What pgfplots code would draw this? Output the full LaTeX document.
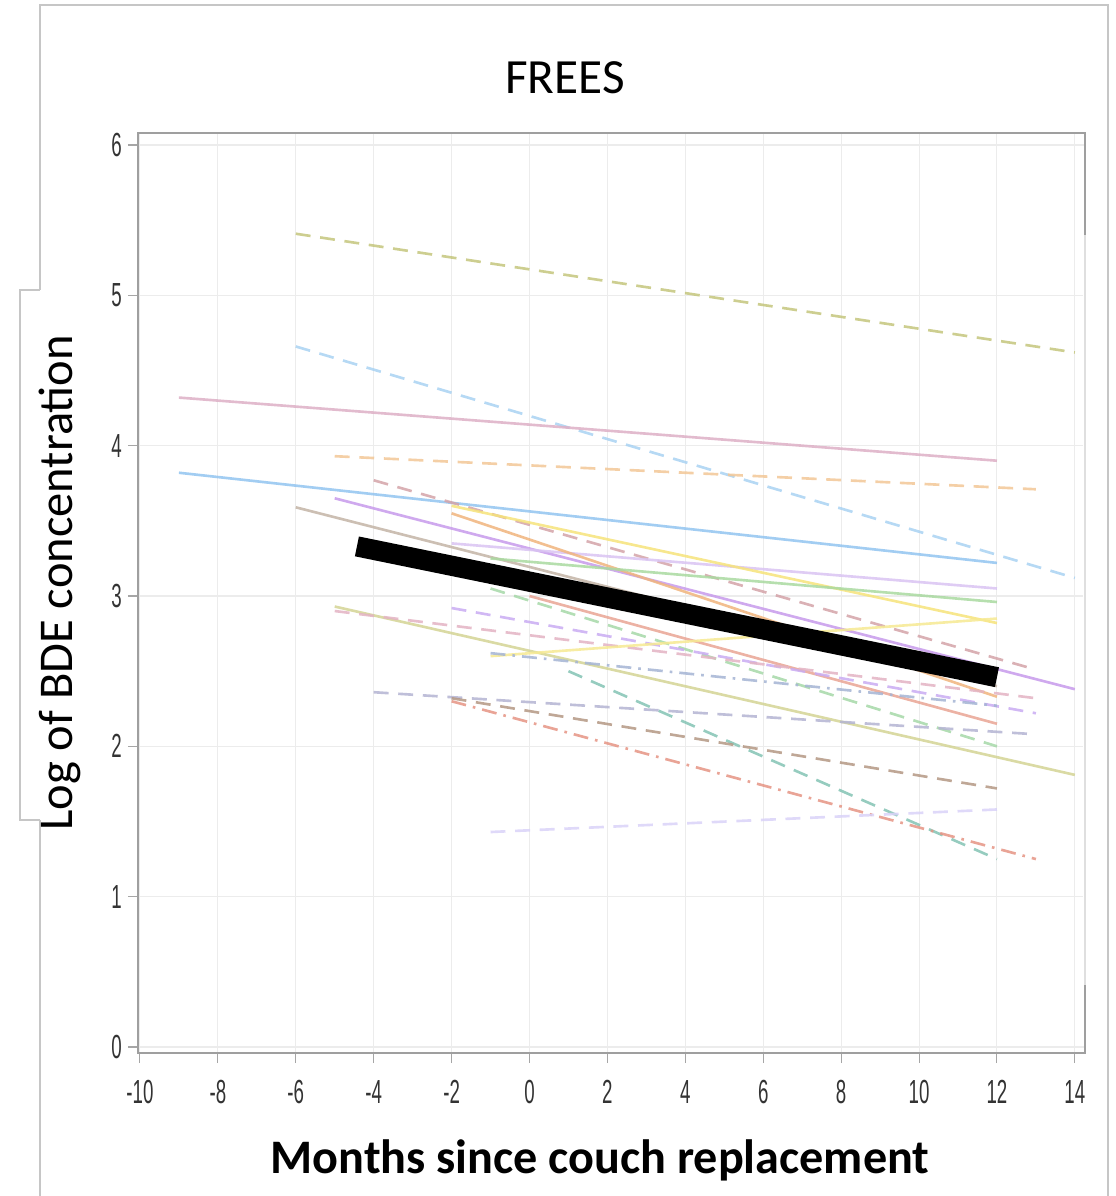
\documentclass[border=0pt]{standalone}
\usepackage{pgfplots}
\pgfplotsset{compat=1.18}
\usepackage{fontspec}
\setmainfont{Carlito}
\newfontfamily\tickfont{Liberation Sans}

% pastel SAS-like colours
\definecolor{olive1}{HTML}{C4C67C}
\definecolor{ltblue}{HTML}{A9D2F2}
\definecolor{pink1}{HTML}{DDAFC6}
\definecolor{orange1}{HTML}{F2C796}
\definecolor{blue1}{HTML}{92C4F0}
\definecolor{mauve1}{HTML}{D4A3A8}
\definecolor{violet1}{HTML}{C79AEB}
\definecolor{tan1}{HTML}{C3B4A6}
\definecolor{yellow1}{HTML}{F6E37A}
\definecolor{orange2}{HTML}{F0B47C}
\definecolor{green1}{HTML}{A9D9A0}
\definecolor{lav1}{HTML}{D9C3F2}
\definecolor{salmon1}{HTML}{E9A494}
\definecolor{green2}{HTML}{A6D8A8}
\definecolor{purple2}{HTML}{C9ABF2}
\definecolor{khaki1}{HTML}{D3D494}
\definecolor{pink2}{HTML}{E3B3C3}
\definecolor{dashblue}{HTML}{A4B4D4}
\definecolor{teal1}{HTML}{84C3B4}
\definecolor{greyp}{HTML}{B4B4D2}
\definecolor{brown1}{HTML}{B49884}
\definecolor{red1}{HTML}{E59484}
\definecolor{lav2}{HTML}{D9D2F8}
\definecolor{yellow2}{HTML}{F6E992}

\tikzset{
  dsh/.style={dash pattern=on 8.5pt off 5.5pt},
  dshdot/.style={dash pattern=on 8.5pt off 4pt on 1.5pt off 4pt},
  traj/.style={line width=1.5pt, opacity=0.85},
}

\begin{document}
\begin{tikzpicture}
\useasboundingbox (-2.76,-2.86) rectangle (19.54,21.06);
% outer frame
\draw[gray!45, line width=0.8pt] (-1.96,15.26) -- (-1.96,20.96) -- (19.40,20.96) -- (19.40,-2.86);
\draw[gray!45, line width=0.8pt] (-1.96,4.66) -- (-1.96,-2.86);
\draw[gray!45, line width=0.8pt] (-1.96,15.26) -- (-2.36,15.26) -- (-2.36,4.66) -- (-1.96,4.66);

\begin{axis}[
    at={(0,0)}, anchor=south west,
    scale only axis,
    width=18.94cm, height=18.4cm,
    xmin=-10.05, xmax=14.26,
    ymin=-0.04, ymax=6.08,
    xtick={-10,-8,...,14},
    ytick={0,1,...,6},
    xtick pos=bottom, ytick pos=left,
    tick align=outside,
    major tick length=0.2cm,
    every tick/.style={gray!70, line width=0.6pt},
    axis line style={gray!75, line width=1.2pt},
    grid=major,
    major grid style={line width=0.6pt, draw=gray!15},
    xticklabel={\tickfont\fontsize{19}{22}\selectfont\scalebox{0.56}[1]{\pgfmathprintnumber[assume math mode=true]{\tick}}},
    yticklabel={\tickfont\fontsize{19}{22}\selectfont\scalebox{0.56}[1]{\pgfmathprintnumber[assume math mode=true]{\tick}}},
    xticklabel style={text=black!80, yshift=-0.22cm},
    yticklabel style={text=black!80},
    clip=false,
]
% individual trajectories
\addplot[olive1, dsh, traj] coordinates {(-6,5.41) (14,4.62)};
\addplot[ltblue, dsh, traj] coordinates {(-6,4.66) (14,3.12)};
\addplot[pink1, traj] coordinates {(-9,4.32) (12,3.90)};
\addplot[orange1, dsh, traj] coordinates {(-5,3.93) (13,3.71)};
\addplot[blue1, traj] coordinates {(-9,3.82) (12,3.22)};
\addplot[mauve1, dsh, traj] coordinates {(-4,3.77) (13,2.51)};
\addplot[violet1, traj] coordinates {(-5,3.65) (14,2.38)};
\addplot[tan1, traj] coordinates {(-6,3.59) (12,2.40)};
\addplot[lav1, traj] coordinates {(-2,3.35) (12,3.05)};
\addplot[yellow1, traj] coordinates {(-2,3.60) (12,2.82)};
\addplot[orange2, traj] coordinates {(-2,3.55) (12,2.33)};
\addplot[green1, traj] coordinates {(-1,3.25) (12,2.96)};
\addplot[salmon1, traj] coordinates {(0,3.00) (12,2.15)};
\addplot[green2, dsh, traj] coordinates {(-1,3.05) (12,2.00)};
\addplot[purple2, dsh, traj] coordinates {(-2,2.92) (13,2.22)};
\addplot[khaki1, traj] coordinates {(-5,2.93) (14,1.81)};
\addplot[pink2, dsh, traj] coordinates {(-5,2.90) (13,2.32)};
\addplot[yellow2, traj] coordinates {(-1,2.60) (12,2.85)};
\addplot[dashblue, dshdot, traj] coordinates {(-1,2.62) (12,2.27)};
\addplot[teal1, dsh, traj] coordinates {(1,2.50) (12,1.25)};
\addplot[greyp, dsh, traj] coordinates {(-4,2.36) (13,2.08)};
\addplot[brown1, dsh, traj] coordinates {(-2,2.32) (12,1.72)};
\addplot[red1, dshdot, traj] coordinates {(-2,2.30) (13,1.25)};
\addplot[lav2, dsh, traj] coordinates {(-1,1.43) (12,1.58)};
% population average
\addplot[black, line width=11.5pt] coordinates {(-4.43,3.33) (12,2.46)};
\end{axis}

% right-hand patch of the screenshot
\fill[white] (18.90,1.36) rectangle (19.35,16.36);
\draw[gray!25, line width=0.8pt] (18.94,1.36) -- (18.94,16.36);
% y label box
\fill[white] (-2.34,4.68) rectangle (-1.98,15.24);

\node[font=\fontsize{28}{33}\selectfont] at (8.54,19.5) {FREES};
\node[font=\fontsize{27.4}{32}\selectfont\bfseries] at (9.24,-2.14) {Months since couch replacement};
\node[rotate=90, font=\fontsize{27.6}{32}\selectfont] at (-1.56,9.4) {Log of BDE concentration};
\end{tikzpicture}
\end{document}
